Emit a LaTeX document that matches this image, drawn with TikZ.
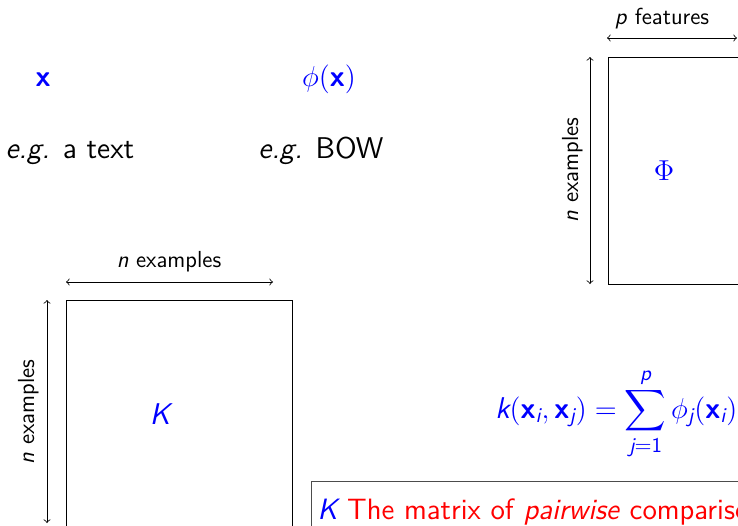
\documentclass[tikz,border=0pt]{standalone}
\usepackage{amsmath}
\usepackage{tikz}
\usetikzlibrary{positioning}
\renewcommand{\familydefault}{\sfdefault}
\newcommand{\vecx}{\text{\sffamily\bfseries x}}
\newcommand{\sfit}[1]{\text{\sffamily\itshape #1}}

\begin{document}
\begin{tikzpicture}[x=0.5pt,y=-0.5pt,
  lbl/.style={font=\fontsize{15}{18}\selectfont, anchor=base, inner sep=0pt},
  dimlbl/.style={font=\fontsize{11.6}{14}\selectfont, anchor=base, inner sep=0pt},
  hl/.style={text=blue},
  mat/.style={draw=black, line width=0.5pt},
  dim/.style={<->, line width=0.4pt},
  note/.style={draw=black!70, line width=0.5pt, anchor=north west, inner xsep=3pt,
               inner ysep=5pt, text width=300pt, align=left, minimum height=30pt,
               font=\fontsize{14.7}{18}\selectfont, text=red}
]
\useasboundingbox (0,0) rectangle (738,525);

% input and its representation
\node[lbl, hl] (xin)   at (43,86)   {$\vecx$};
\node[lbl, hl] (phix)  at (329,86)  {$\phi(\vecx)$};
\node[lbl]     (egtxt) at (70,158)  {\textit{e.g.} a text};
\node[lbl]     (egbow) at (321,158) {\textit{e.g.} BOW};

% feature matrix
\coordinate (phiNW) at (608,57);
\coordinate (phiSE) at (830,284);
\draw[mat] (phiNW) rectangle (phiSE);
\node[lbl, hl, anchor=center] (Phi) at (664,171) {$\Phi$};
\coordinate (pL) at (607,38);
\coordinate (pR) at (737,38);
\draw[dim] (pL) -- (pR);
\node[dimlbl] (pfeat) at (662,24) {\textit{p} features};
\coordinate (nT) at (590,57);
\coordinate (nB) at (590,284);
\draw[dim] (nT) -- (nB);
\node[dimlbl, rotate=90] (nex1) at (578,170) {\textit{n} examples};

% kernel matrix
\coordinate (kNW) at (66,300);
\coordinate (kSE) at (292,530);
\draw[mat] (kNW) rectangle (kSE);
\node[lbl, hl, anchor=center] (K) at (160,414) {$\sfit{K}$};
\coordinate (kL) at (66,282);
\coordinate (kR) at (273,282);
\draw[dim] (kL) -- (kR);
\node[dimlbl] (nex2) at (169,267) {\textit{n} examples};
\coordinate (kT) at (47,300);
\coordinate (kB) at (47,523);
\draw[dim] (kT) -- (kB);
\node[dimlbl, rotate=90] (nex3) at (34,412) {\textit{n} examples};

% kernel formula
\node[lbl, hl, anchor=base west] (kform) at (495,418)
  {$\displaystyle \sfit{k}(\vecx_{\sfit{i}},\vecx_{\sfit{j}})
    = \sum_{\sfit{j}=\text{1}}^{\sfit{p}} \phi_{\sfit{j}}(\vecx_{\sfit{i}})\phi_{\sfit{j}}(\vecx_{\sfit{j}})$};

% note box
\node[note] (knote) at (311,481)
  {{\color{blue}\itshape K} The matrix of \textit{pairwise} comparisons};
\end{tikzpicture}
\end{document}
